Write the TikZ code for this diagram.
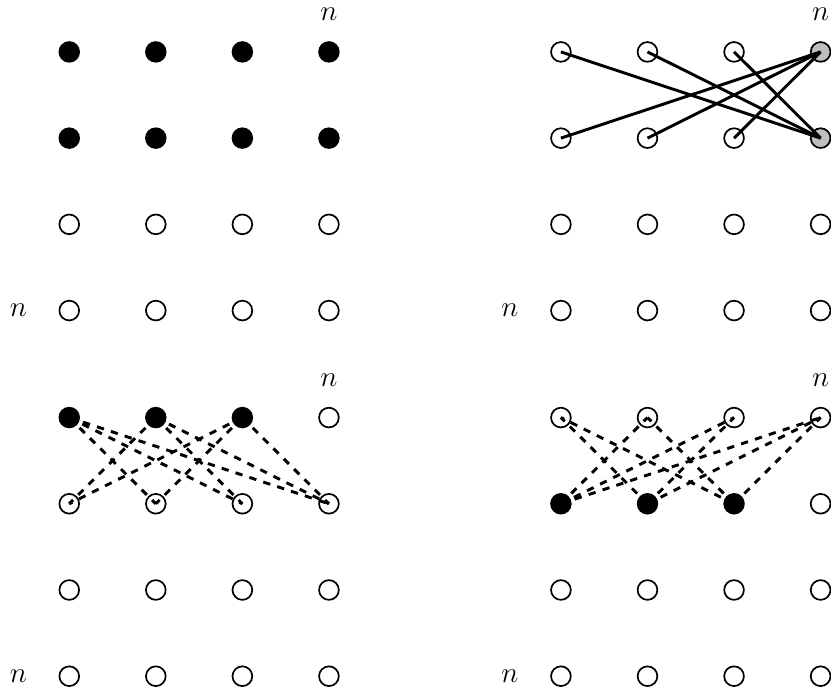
\documentclass[tikz,border=0pt,12pt]{standalone}
\usepackage{amsmath}
\usepackage{tikz}
\usetikzlibrary{positioning}
\tikzset{
  opendot/.style={circle,draw,fill=white,line width=0.7pt,minimum size=2.85mm,inner sep=0pt},
  fulldot/.style={opendot,fill=black},
  graydot/.style={opendot,fill=gray!50},
  solidln/.style={line width=1.2pt},
  dashln/.style={line width=1.2pt,dashed},
  nlab/.style={inner sep=0pt},
}

\begin{document}
\begin{tikzpicture}
  \useasboundingbox (0,0) rectangle (12,10);
  \def\dx{1.25}\def\dy{1.245}
  % oben links: zwei volle Reihen
  \begin{scope}[shift={(1,9.25)}]
    \foreach \i in {1,...,4}
      \foreach \j in {1,...,4} {
        \ifnum\j<3 \def\st{fulldot}\else\def\st{opendot}\fi
        \node[\st] (tl\i\j) at ({(\i-1)*\dx},{-(\j-1)*\dy}) {};
      }
  \end{scope}
  \node[nlab,above=0.29cm of tl41] (tltop) {$n$};
  \node[nlab,left=0.45cm of tl14] (tlleft) {$n$};
  % oben rechts: graue Spalte
  \begin{scope}[shift={(8.1,9.25)}]
    \foreach \i in {1,...,4}
      \foreach \j in {1,...,4} {
        \def\st{opendot}
        \ifnum\i=4 \ifnum\j<3 \def\st{graydot}\fi\fi
        \node[\st] (tr\i\j) at ({(\i-1)*\dx},{-(\j-1)*\dy}) {};
      }
  \end{scope}
  \foreach \i in {1,2,3} {
    \draw[solidln] (tr\i1.center) -- (tr42.center);
    \draw[solidln] (tr\i2.center) -- (tr41.center);
  }
  \node[nlab,above=0.29cm of tr41] (trtop) {$n$};
  \node[nlab,left=0.45cm of tr14] (trleft) {$n$};
  % unten links: volle Knoten oben
  \begin{scope}[shift={(1,3.97)}]
    \foreach \i in {1,...,4}
      \foreach \j in {1,...,4} {
        \def\st{opendot}
        \ifnum\j=1 \ifnum\i<4 \def\st{fulldot}\fi\fi
        \node[\st] (bl\i\j) at ({(\i-1)*\dx},{-(\j-1)*\dy}) {};
      }
  \end{scope}
  \foreach \i in {1,2,3}
    \foreach \j in {1,...,4} {
      \ifnum\i=\j\else \draw[dashln] (bl\i1.center) -- (bl\j2.center);\fi
    }
  \node[nlab,above=0.29cm of bl41] (bltop) {$n$};
  \node[nlab,left=0.45cm of bl14] (blleft) {$n$};
  % unten rechts: volle Knoten in Reihe zwei
  \begin{scope}[shift={(8.1,3.97)}]
    \foreach \i in {1,...,4}
      \foreach \j in {1,...,4} {
        \def\st{opendot}
        \ifnum\j=2 \ifnum\i<4 \def\st{fulldot}\fi\fi
        \node[\st] (br\i\j) at ({(\i-1)*\dx},{-(\j-1)*\dy}) {};
      }
  \end{scope}
  \foreach \i in {1,2,3}
    \foreach \j in {1,...,4} {
      \ifnum\i=\j\else \draw[dashln] (br\i2.center) -- (br\j1.center);\fi
    }
  \node[nlab,above=0.29cm of br41] (brtop) {$n$};
  \node[nlab,left=0.45cm of br14] (brleft) {$n$};
\end{tikzpicture}
\end{document}
